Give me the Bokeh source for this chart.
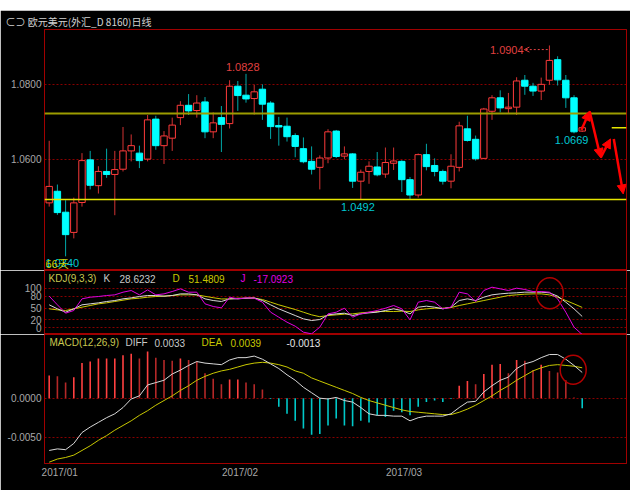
from bokeh.plotting import figure
from bokeh.layouts import column
from bokeh.models import (Range1d, FixedTicker, NumeralTickFormatter, Span, Label, Arrow,
                          NormalHead, OpenHead, Spacer)
from bokeh.embed import file_html
from bokeh.resources import INLINE

# ---------------- data ----------------
date_idx = [0, 22, 42]
date_labels = ["2017/01", "2017/02", "2017/03"]

opens = [1.0483, 1.0514, 1.0458, 1.0404, 1.0484, 1.0598, 1.0529, 1.0567, 1.0559, 1.0573,
         1.0622, 1.0616, 1.0600, 1.0707, 1.0636, 1.0656, 1.0711, 1.0744, 1.0730, 1.0753,
         1.0673, 1.0711, 1.0695, 1.0795, 1.0771, 1.0762, 1.0787, 1.0750, 1.0690, 1.0688,
         1.0663, 1.0628, 1.0594, 1.0578, 1.0603, 1.0675, 1.0608, 1.0614, 1.0541, 1.0567,
         1.0579, 1.0560, 1.0589, 1.0594, 1.0545, 1.0504, 1.0612, 1.0583, 1.0567, 1.0541,
         1.0578, 1.0681, 1.0653, 1.0602, 1.0728, 1.0764, 1.0735, 1.0739, 1.0811, 1.0795,
         1.0782, 1.0811, 1.0866, 1.0811, 1.0764, 1.0675]
highs = [1.0649, 1.0532, 1.0490, 1.0497, 1.0616, 1.0622, 1.0581, 1.0628, 1.0622, 1.0686,
         1.0666, 1.0636, 1.0718, 1.0716, 1.0675, 1.0711, 1.0755, 1.0774, 1.0771, 1.0766,
         1.0725, 1.0742, 1.0811, 1.0809, 1.0828, 1.0799, 1.0800, 1.0755, 1.0713, 1.0711,
         1.0669, 1.0658, 1.0634, 1.0610, 1.0680, 1.0678, 1.0634, 1.0616, 1.0572, 1.0594,
         1.0619, 1.0631, 1.0631, 1.0597, 1.0552, 1.0615, 1.0641, 1.0602, 1.0572, 1.0613,
         1.0700, 1.0716, 1.0663, 1.0737, 1.0771, 1.0784, 1.0777, 1.0819, 1.0825, 1.0804,
         1.0818, 1.0904, 1.0875, 1.0825, 1.0771, 1.0689]
lows = [1.0473, 1.0451, 1.0340, 1.0388, 1.0473, 1.0519, 1.0508, 1.0550, 1.0450, 1.0567,
        1.0594, 1.0576, 1.0594, 1.0625, 1.0587, 1.0622, 1.0691, 1.0718, 1.0711, 1.0656,
        1.0656, 1.0619, 1.0682, 1.0729, 1.0751, 1.0719, 1.0705, 1.0654, 1.0636, 1.0647,
        1.0605, 1.0589, 1.0559, 1.0519, 1.0589, 1.0603, 1.0600, 1.0523, 1.0492, 1.0534,
        1.0554, 1.0550, 1.0571, 1.0512, 1.0493, 1.0497, 1.0570, 1.0554, 1.0532, 1.0522,
        1.0567, 1.0647, 1.0596, 1.0600, 1.0705, 1.0725, 1.0722, 1.0718, 1.0772, 1.0769,
        1.0758, 1.0799, 1.0797, 1.0737, 1.0669, 1.0673]
closes = [1.0527, 1.0457, 1.0398, 1.0483, 1.0596, 1.0530, 1.0567, 1.0559, 1.0572, 1.0622,
          1.0636, 1.0596, 1.0705, 1.0636, 1.0662, 1.0691, 1.0744, 1.0729, 1.0750, 1.0673,
          1.0697, 1.0693, 1.0795, 1.0770, 1.0761, 1.0780, 1.0747, 1.0687, 1.0686, 1.0660,
          1.0634, 1.0593, 1.0573, 1.0603, 1.0673, 1.0607, 1.0614, 1.0541, 1.0565, 1.0581,
          1.0558, 1.0591, 1.0595, 1.0545, 1.0504, 1.0612, 1.0580, 1.0567, 1.0541, 1.0581,
          1.0689, 1.0650, 1.0601, 1.0734, 1.0764, 1.0737, 1.0739, 1.0809, 1.0795, 1.0782,
          1.0800, 1.0864, 1.0812, 1.0764, 1.0673, 1.0684]

K = [58.0, 47.9, 39.4, 47.9, 58.0, 60.5, 63.0, 66.4, 68.9, 73.1,
     75.6, 79.0, 81.5, 81.5, 79.9, 81.5, 85.7, 85.7, 83.2, 73.1,
     68.9, 66.4, 73.1, 73.1, 74.8, 75.6, 68.9, 58.0, 47.9, 39.4,
     31.0, 22.6, 18.4, 20.9, 32.7, 35.2, 36.9, 31.0, 35.2, 37.8,
     39.4, 43.7, 47.9, 43.7, 35.2, 52.1, 54.6, 52.1, 47.9, 52.1,
     68.9, 73.1, 68.9, 77.3, 83.2, 85.7, 87.4, 88.3, 90.0, 90.0,
     90.0, 88.3, 79.9, 64.7, 47.9, 28.6]
D = [47.9, 45.3, 43.7, 47.9, 52.1, 56.3, 60.5, 63.0, 66.4, 69.7,
     73.1, 74.8, 77.3, 79.0, 79.9, 81.5, 83.2, 83.2, 83.2, 79.5,
     76.0, 72.8, 73.0, 74.8, 74.8, 74.8, 71.4, 64.7, 58.0, 52.1,
     46.2, 39.4, 32.7, 28.0, 31.0, 32.7, 34.4, 35.2, 37.8, 39.4,
     41.1, 41.1, 41.1, 42.0, 41.1, 45.3, 47.9, 49.5, 49.5, 51.2,
     56.3, 60.5, 64.7, 68.9, 73.1, 77.3, 81.5, 83.2, 84.9, 85.7,
     85.7, 83.2, 77.3, 68.9, 60.5, 51.5]
J = [79.9, 58.0, 36.9, 43.7, 73.1, 77.3, 79.0, 81.5, 83.2, 89.9,
     94.2, 83.2, 95.8, 83.2, 85.7, 91.6, 98.4, 89.9, 89.9, 60.5,
     53.8, 50.4, 77.3, 73.1, 75.6, 74.8, 64.7, 39.5, 26.8, 14.2,
     4.1, -11.1, -15.3, 1.6, 35.2, 39.4, 49.5, 26.8, 35.2, 39.4,
     43.7, 49.5, 56.3, 47.9, 20.1, 64.7, 68.9, 64.7, 47.9, 52.1,
     89.9, 85.7, 66.4, 94.2, 102.6, 98.4, 94.2, 100.1, 96.7, 91.6,
     91.6, 90.0, 73.1, 39.4, 1.6, -17.1]

DIFF = [-0.0067, -0.0065, -0.0066, -0.0058, -0.0044, -0.0037, -0.0031, -0.0025, -0.0020, -0.0012,
        -0.0001, 0.0003, 0.0017, 0.0020, 0.0023, 0.0031, 0.0036, 0.0042, 0.0047, 0.0045,
        0.0044, 0.0043, 0.0049, 0.0052, 0.0052, 0.0054, 0.0050, 0.0044, 0.0038, 0.0030,
        0.0023, 0.0014, 0.0007, 0.0000, -0.0001, 0.0001, -0.0003, -0.0005, -0.0012, -0.0020,
        -0.0022, -0.0022, -0.0023, -0.0023, -0.0029, -0.0025, -0.0023, -0.0023, -0.0023, -0.0020,
        -0.0012, -0.0005, -0.0004, 0.0008, 0.0016, 0.0023, 0.0027, 0.0038, 0.0044, 0.0047,
        0.0052, 0.0056, 0.0056, 0.0050, 0.0042, 0.0033]
DEA = [-0.0082, -0.0078, -0.0076, -0.0073, -0.0067, -0.0061, -0.0054, -0.0048, -0.0041, -0.0035,
       -0.0029, -0.0022, -0.0016, -0.0009, -0.0003, 0.0003, 0.0010, 0.0016, 0.0023, 0.0028,
       0.0032, 0.0035, 0.0037, 0.0040, 0.0043, 0.0045, 0.0046, 0.0045, 0.0043, 0.0040,
       0.0035, 0.0032, 0.0026, 0.0022, 0.0018, 0.0014, 0.0010, 0.0006, 0.0001, -0.0003,
       -0.0006, -0.0009, -0.0012, -0.0015, -0.0017, -0.0018, -0.0019, -0.0020, -0.0021, -0.0021,
       -0.0018, -0.0014, -0.0009, -0.0003, 0.0003, 0.0010, 0.0016, 0.0023, 0.0029, 0.0035,
       0.0039, 0.0042, 0.0043, 0.0042, 0.0041, 0.0039]
MACD = [0.0029, 0.0028, 0.0020, 0.0027, 0.0045, 0.0047, 0.0051, 0.0051, 0.0051, 0.0055,
        0.0057, 0.0051, 0.0060, 0.0052, 0.0049, 0.0048, 0.0051, 0.0049, 0.0047, 0.0032,
        0.0025, 0.0018, 0.0024, 0.0024, 0.0020, 0.0018, 0.0011, -0.0001, -0.0011, -0.0020,
        -0.0029, -0.0039, -0.0047, -0.0046, -0.0035, -0.0026, -0.0035, -0.0036, -0.0029, -0.0031,
        -0.0022, -0.0024, -0.0016, -0.0018, -0.0022, -0.0011, -0.0005, -0.0003, -0.0005, -0.0001,
        0.0016, 0.0022, 0.0018, 0.0031, 0.0043, 0.0044, 0.0032, 0.0049, 0.0048, 0.0036,
        0.0043, 0.0035, 0.0033, 0.0023, 0.0001, -0.0013]

kdj_last = {"K": 28.6232, "D": 51.4809, "J": -17.0923}
macd_last = {"DIFF": 0.0033, "DEA": 0.0039, "MACD": -0.0013}

support_levels = [1.0722, 1.0492]
price_ticks = [1.06, 1.08]
kdj_ticks = [0, 20, 50, 80, 100]
macd_ticks = [-0.005, 0.0]

# hand-drawn forecast arrows (bar index, price)
fc_x0 = [64.9, 65.9, 67.25, 68.85]
fc_y0 = [1.0678, 1.0728, 1.0604, 1.0654]
fc_x1 = [65.9, 67.25, 68.45, 70.0]
fc_y1 = [1.0728, 1.0604, 1.0654, 1.0507]

# ---------------- styling ----------------
BG = "black"
FRAME = "#a00000"
GRIDC = "#880000"
UPC = "#ff3b3b"
UPW = "#d23232"
DNC = "#00ffff"
DNW = "#00a8a8"
AX = "#a8a8a8"
FONT = "Liberation Sans"
LEFT = 44
RIGHT = 4

n = len(closes)
xs = list(range(n))
xr = Range1d(-0.573, 70.4)


def mk(h, yr, top=0, bottom=0, xaxis=False):
    p = figure(width=630, height=h, x_range=xr, y_range=yr, output_backend="svg",
               toolbar_location=None, x_axis_location="below" if xaxis else None,
               min_border_left=LEFT, min_border_right=RIGHT, min_border_top=top,
               min_border_bottom=bottom, background_fill_color=BG, border_fill_color=BG,
               outline_line_color=FRAME, outline_line_width=1)
    p.xgrid.visible = False
    return p


def style_y(p, ticks, fmt=None):
    ax = p.yaxis[0]
    ax.ticker = FixedTicker(ticks=ticks)
    if fmt:
        ax.formatter = NumeralTickFormatter(format=fmt)
    ax.axis_line_color = None
    ax.major_tick_line_color = None
    ax.minor_tick_line_color = None
    ax.major_tick_out = 0
    ax.major_tick_in = 0
    ax.minor_tick_out = 0
    ax.minor_tick_in = 0
    ax.major_label_text_color = AX
    ax.major_label_text_font = FONT
    ax.major_label_text_font_size = "10px"
    ax.major_label_standoff = 3
    p.ygrid.ticker = FixedTicker(ticks=ticks)
    p.ygrid.grid_line_color = GRIDC
    p.ygrid.grid_line_dash = "2 2"
    p.ygrid.grid_line_width = 1


# ---------------- main candlestick panel ----------------
p1 = mk(260, Range1d(1.03021, 1.09467), top=17)
style_y(p1, price_ticks, "0.0000")
p1.title.text = "⊂⊃ 欧元美元(外汇_D 8160)日线"
p1.title.align = "left"
p1.title.offset = 5 - LEFT
p1.title.standoff = 2
p1.title.text_font = "Noto Sans CJK SC"
p1.title.text_font_size = "10px"
p1.title.text_font_style = "normal"
p1.title.text_color = "#d2d2d2"

for lvl, col, lw in zip(support_levels, ["#9c9c00", "#e6e600"], [2, 1.5]):
    p1.add_layout(Span(location=lvl, dimension="width", line_color=col, line_width=lw))

up = [i for i in xs if closes[i] >= opens[i]]
dn = [i for i in xs if closes[i] < opens[i]]

p1.segment(x0=up, y0=[highs[i] for i in up], x1=up, y1=[lows[i] for i in up],
           line_color=UPW, line_width=1)
p1.segment(x0=dn, y0=[highs[i] for i in dn], x1=dn, y1=[lows[i] for i in dn],
           line_color=DNW, line_width=1)
p1.vbar(x=up, width=0.78, top=[closes[i] for i in up], bottom=[opens[i] for i in up],
        fill_color=BG, line_color=UPC, line_width=1)
p1.vbar(x=dn, width=0.78, top=[opens[i] for i in dn], bottom=[closes[i] for i in dn],
        fill_color=DNC, line_color=DNC, line_width=1)

# last-price marker
p1.segment(x0=[68.6], y0=[closes[-1]], x1=[70.4], y1=[closes[-1]], line_color="#e6e600", line_width=1.5)

# forecast arrows
for a, b, c, d in zip(fc_x0, fc_y0, fc_x1, fc_y1):
    p1.add_layout(Arrow(end=NormalHead(size=9, fill_color="#ff0000", line_color="#ff0000"),
                        x_start=a, y_start=b, x_end=c, y_end=d,
                        line_color="#ff0000", line_width=2.5))

# high / low annotations
i_hi1, i_hi2, i_lo1, i_lo2, i_lo0 = 24, 61, 38, 64, 2
RED_T = "#e04040"
CY_T = "#00c8d2"
p1.add_layout(Label(x=i_hi1 - 0.4, y=highs[i_hi1] + 0.0019, text=f"{highs[i_hi1]:.4f}",
                    text_color=RED_T, text_font=FONT, text_font_size="11px",
                    text_align="center", text_baseline="middle"))
p1.add_layout(Label(x=i_hi2 - 5.2, y=highs[i_hi2] - 0.0013, text=f"{highs[i_hi2]:.4f}",
                    text_color=RED_T, text_font=FONT, text_font_size="11px",
                    text_align="center", text_baseline="middle"))
p1.add_layout(Arrow(end=OpenHead(size=5, line_color=RED_T, line_width=1),
                    x_start=i_hi2 - 0.2, y_start=highs[i_hi2] - 0.0011,
                    x_end=i_hi2 - 3.05, y_end=highs[i_hi2] - 0.0011,
                    line_color=RED_T, line_width=1, line_dash="2 2"))
p1.add_layout(Label(x=i_lo2 - 0.3, y=lows[i_lo2] - 0.0019, text=f"{lows[i_lo2]:.4f}",
                    text_color=CY_T, text_font=FONT, text_font_size="11px",
                    text_align="center", text_baseline="middle"))
p1.add_layout(Label(x=i_lo1 - 0.35, y=lows[i_lo1] - 0.0020, text=f"{lows[i_lo1]:.4f}",
                    text_color=CY_T, text_font=FONT, text_font_size="11px",
                    text_align="center", text_baseline="middle"))
p1.add_layout(Label(x=-0.45, y=lows[i_lo0] - 0.0019, text=f"{lows[i_lo0]:.4f}",
                    text_color=CY_T, text_font=FONT, text_font_size="11px",
                    text_align="left", text_baseline="middle"))
p1.add_layout(Label(x=-0.45, y=lows[i_lo0] - 0.0019, text="66天",
                    text_color="#c8c800", text_font="Noto Sans CJK SC", text_font_size="11px",
                    text_align="left", text_baseline="middle"))

# ---------------- KDJ panel ----------------
p2 = mk(64, Range1d(-16.9, 144.7))
style_y(p2, kdj_ticks)
p2.line(xs, D, line_color="#c8c800", line_width=1)
p2.line(xs, K, line_color="#d8d8d8", line_width=1)
p2.line(xs, J, line_color="#e000e0", line_width=1)
p2.ellipse(x=[61.05], y=[87.4], width=27, height=31, width_units="screen", height_units="screen",
           fill_color=None, line_color="#b00000", line_width=1.5)

kdj_head = [("KDJ(9,3,3)", 48, "#c8c850"), ("K", 103, "#c8c8c8"),
            (f"{kdj_last['K']:.4f}", 119, "#c8c8c8"), ("D", 172, "#c8c800"),
            (f"{kdj_last['D']:.4f}", 188, "#c8c800"), ("J", 240, "#e000e0"),
            (f"{kdj_last['J']:.4f}", 253, "#e000e0")]
for t, px, c in kdj_head:
    p2.add_layout(Label(x=px - LEFT, y=56, x_units="screen", y_units="screen", text=t,
                        text_color=c, text_font=FONT, text_font_size="10px",
                        text_baseline="middle"))

# ---------------- MACD panel ----------------
p3 = mk(156, Range1d(-0.008372, 0.008167), bottom=27, xaxis=True)
style_y(p3, macd_ticks, "0.0000")

bar_cols = []
for i, v in enumerate(MACD):
    prev = MACD[i - 1] if i > 0 else v
    if v >= 0:
        bar_cols.append("#ff4040" if v >= prev else "#b42828")
    else:
        bar_cols.append("#00c8c8")
p3.segment(x0=xs, y0=[0] * n, x1=xs, y1=MACD, line_color=bar_cols, line_width=1.6)
p3.line(xs, DEA, line_color="#c8c800", line_width=1)
p3.line(xs, DIFF, line_color="#d8d8d8", line_width=1)
p3.ellipse(x=[63.9], y=[0.00364], width=26, height=29, width_units="screen", height_units="screen",
           fill_color=None, line_color="#b00000", line_width=1.5)

macd_head = [("MACD(12,26,9)", 49, "#c8c850"), ("DIFF", 125, "#c8c8c8"),
             (f"{macd_last['DIFF']:.4f}", 154, "#c8c8c8"), ("DEA", 201, "#c8c800"),
             (f"{macd_last['DEA']:.4f}", 230, "#c8c800"),
             (f"{macd_last['MACD']:.4f}", 286, "#e6e6e6")]
for t, px, c in macd_head:
    p3.add_layout(Label(x=px - LEFT, y=121, x_units="screen", y_units="screen", text=t,
                        text_color=c, text_font=FONT, text_font_size="10px",
                        text_baseline="middle"))

xa = p3.xaxis[0]
tick_pos = [d + 1.28 for d in date_idx]
xa.ticker = FixedTicker(ticks=tick_pos)
xa.major_label_overrides = {tp: lab for tp, lab in zip(tick_pos, date_labels)}
xa.axis_line_color = None
xa.major_tick_line_color = None
xa.minor_tick_line_color = None
xa.major_tick_out = 0
xa.major_tick_in = 0
xa.minor_tick_out = 0
xa.minor_tick_in = 0
xa.major_label_text_color = AX
xa.major_label_text_font = FONT
xa.major_label_text_font_size = "10px"
xa.major_label_standoff = 3

layout = column(Spacer(width=630, height=10), p1, p2, p3, spacing=0)
open("out.html", "w").write(file_html(layout, INLINE))
